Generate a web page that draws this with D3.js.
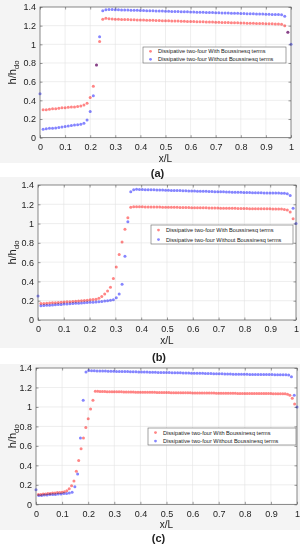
<!DOCTYPE html>
<html>
<head>
<meta charset="utf-8">
<script src="https://cdn.jsdelivr.net/npm/d3@7"></script>
<style>
  body { margin: 0; background: #fff; }
  svg { display: block; }
  text { font-family: "Liberation Sans", Arial, sans-serif; fill: #222; }
</style>
</head>
<body>
<div id="fig"></div>
<script>
'use strict';

var xTicks = [0, 0.1, 0.2, 0.3, 0.4, 0.5, 0.6, 0.7, 0.8, 0.9, 1];
var yTicks = [0, 0.2, 0.4, 0.6, 0.8, 1, 1.2, 1.4];
var seriesNames = ['Dissipative two-four With Boussinesq terms', 'Dissipative two-four Without Boussinesq terms'];
var panelNames = ['(a)', '(b)', '(c)'];

// h/hdo along x/L, points evenly spaced from x=0 to x=1 (null = no marker)
var redA = [null,
  0.30,0.30,0.305,0.31,0.31,0.315,0.32,0.32,0.325,0.33,0.33,0.335,0.34,0.35,
  0.37,0.43,0.55,0.78,1.03,
  1.27,1.28,1.275,
  1.272,1.27,1.268,1.267,1.266,1.265,1.264,1.263,1.262,1.261,
  1.26,1.259,1.258,1.257,1.256,1.255,1.254,1.253,1.252,1.251,
  1.25,1.249,1.248,1.247,1.246,1.245,1.244,1.243,1.242,1.241,
  1.24,1.239,1.238,1.237,1.236,1.235,1.234,1.233,1.232,1.231,
  1.23,1.229,1.228,1.227,1.226,1.225,1.224,1.223,1.222,1.221,
  1.22,1.22,1.219,1.218,1.215,
  1.20,1.13,null];
var blueA = [0.47,
  0.09,0.095,0.10,0.10,0.105,0.11,0.115,0.12,0.125,0.13,0.135,0.14,0.145,0.155,
  0.19,0.28,0.45,0.78,1.08,
  1.36,1.37,1.372,
  1.372,1.371,1.370,1.369,1.368,1.367,1.366,1.365,1.364,1.363,
  1.362,1.361,1.360,1.359,1.358,1.357,1.356,1.355,1.354,1.353,
  1.352,1.351,1.350,1.349,1.348,1.347,1.346,1.345,1.344,1.343,
  1.342,1.341,1.340,1.339,1.338,1.337,1.336,1.335,1.334,1.333,
  1.332,1.331,1.330,1.329,1.328,1.327,1.326,1.325,1.324,1.323,
  1.322,1.321,1.320,1.320,1.318,
  1.30,1.13,1.00];

var redB = [null,
  0.17,0.172,0.174,0.176,0.178,0.18,0.182,0.184,0.186,0.188,
  0.19,0.192,0.194,0.197,0.2,0.203,0.206,0.209,0.212,0.216,
  0.225,0.245,
  0.27,0.30,0.34,0.43,0.55,0.68,0.81,0.94,1.06,1.17,
  1.175,1.175,1.174,1.174,1.173,1.173,1.172,1.172,1.171,1.171,
  1.17,1.17,1.169,1.169,1.168,1.168,1.167,1.167,1.166,1.166,
  1.165,1.165,1.164,1.164,1.163,1.163,1.162,1.162,1.161,1.161,
  1.16,1.16,1.159,1.159,1.158,1.158,1.157,1.157,1.156,1.156,
  1.155,1.155,1.155,1.154,1.154,1.154,1.153,1.153,1.152,1.152,1.151,1.15,1.145,
  1.14,1.12,1.05,null];
var blueB = [0.25,
  0.148,0.15,0.152,0.154,0.156,0.158,0.16,0.162,0.165,0.167,
  0.169,0.171,0.173,0.175,0.177,0.179,0.181,0.183,0.185,0.187,
  0.19,0.193,0.196,0.2,0.205,0.21,
  0.23,0.27,0.37,0.66,1.02,1.33,
  1.35,1.355,
  1.354,1.353,1.352,1.352,1.351,1.35,1.349,1.348,1.347,1.346,
  1.345,1.344,1.343,1.343,1.342,1.341,1.34,1.339,1.338,1.337,
  1.336,1.336,1.335,1.334,1.333,1.332,1.331,1.33,1.33,1.329,
  1.328,1.327,1.326,1.325,1.325,1.324,1.323,1.322,1.321,1.32,
  1.32,1.319,1.319,1.318,1.318,1.317,1.317,1.316,1.316,1.315,1.315,1.31,
  1.29,1.16,1.00];

var redC = [null,
  0.10,0.10,0.105,0.105,0.11,0.11,0.115,0.115,0.12,0.12,0.125,0.13,
  0.14,0.16,0.19,0.24,0.34,0.45,0.57,0.68,0.79,0.88,0.98,1.07,1.16,
  1.16,1.159,1.158,1.158,1.157,1.157,1.156,1.156,1.155,1.155,
  1.155,1.154,1.154,1.153,1.153,1.153,1.152,1.152,1.152,1.151,
  1.151,1.151,1.15,1.15,1.15,1.149,1.149,1.149,1.148,1.148,
  1.148,1.147,1.147,1.147,1.146,1.146,1.146,1.145,1.145,1.145,
  1.144,1.144,1.144,1.143,1.143,1.143,1.142,1.142,1.142,1.142,
  1.141,1.141,1.141,1.141,1.14,1.14,1.14,1.14,1.14,1.139,
  1.139,1.139,1.139,1.139,1.138,1.138,1.138,1.138,1.138,1.137,
  1.137,1.137,1.137,1.137,1.136,1.136,1.136,1.136,1.135,
  1.135,1.13,1.12,1.09,1.03,null];
var blueC = [0.15,
  0.09,0.09,0.095,0.095,0.10,0.10,0.10,0.105,0.105,0.11,0.11,0.115,
  0.125,0.18,0.31,0.68,1.07,1.36,1.375,
  1.372,1.371,1.37,1.369,1.369,1.368,1.367,1.367,1.366,1.365,
  1.365,1.364,1.363,1.363,1.362,1.361,1.361,1.36,1.359,1.359,
  1.358,1.357,1.357,1.356,1.355,1.355,1.354,1.353,1.353,1.352,
  1.351,1.351,1.35,1.349,1.349,1.348,1.347,1.347,1.346,1.345,
  1.345,1.344,1.343,1.343,1.342,1.341,1.341,1.34,1.339,1.339,
  1.338,1.337,1.337,1.336,1.336,1.335,1.335,1.334,1.334,1.334,
  1.333,1.333,1.333,1.332,1.332,1.332,1.331,1.331,1.331,1.33,1.33,1.328,
  1.31,1.12,1.00];

var panelSeries = [[redA, blueA], [redB, blueB], [redC, blueC]];

var chart = {};
chart.width = 307;
chart.height = 550;
chart.colors = ['#ff8585', '#8585ff'];
chart.layout = [
  {fig: [0, 0, 300, 163], left: 40, right: 291, top: 7, bottom: 137.7, legend: [143, 47, 143, 16], xlab: 162, tag: 177},
  {fig: [0, 177, 300, 171], left: 38, right: 296, top: 185, bottom: 320, legend: [151, 225, 142, 19], xlab: 344, tag: 361},
  {fig: [0, 364, 300, 166], left: 36, right: 297, top: 368, bottom: 504.3, legend: [148, 428, 148, 17], xlab: 528, tag: 542}
];

chart.appendSvg = function (div)
{
    return d3.select(div).append('svg')
        .attr('width', chart.width)
        .attr('height', chart.height);
}

chart.drawBackgrounds = function (svg)
{
    svg.append('g').selectAll('rect').data(chart.layout).enter().append('rect')
        .attr('x', function(d){ return d.fig[0]; })
        .attr('y', function(d){ return d.fig[1]; })
        .attr('width', function(d){ return d.fig[2]; })
        .attr('height', function(d){ return d.fig[3]; })
        .attr('fill', '#f4f4f4');
}

chart.drawPanel = function (svg, k)
{
    var L = chart.layout[k];
    var xScale = d3.scaleLinear().domain([0, 1]).range([L.left, L.right]);
    var yScale = d3.scaleLinear().domain([0, 1.4]).range([L.bottom, L.top]);
    var g = svg.append('g').attr('class', 'panel');

    g.append('rect')
        .attr('x', L.left).attr('y', L.top)
        .attr('width', L.right - L.left).attr('height', L.bottom - L.top)
        .attr('fill', '#fff');

    // grid
    g.selectAll('.gx').data(xTicks.slice(1, -1)).enter().append('line')
        .attr('x1', function(d){ return xScale(d); }).attr('x2', function(d){ return xScale(d); })
        .attr('y1', L.top).attr('y2', L.bottom)
        .attr('stroke', '#e3e3e3').attr('stroke-width', 0.6);
    g.selectAll('.gy').data(yTicks.slice(1, -1)).enter().append('line')
        .attr('y1', function(d){ return yScale(d); }).attr('y2', function(d){ return yScale(d); })
        .attr('x1', L.left).attr('x2', L.right)
        .attr('stroke', '#e3e3e3').attr('stroke-width', 0.6);

    // axes, ticks pointing inward on all four sides
    var fmt = function(d){ return String(d); };
    var axB = g.append('g').attr('transform', 'translate(0,' + L.bottom + ')')
        .call(d3.axisBottom(xScale).tickValues(xTicks).tickSize(-2.5).tickSizeOuter(0).tickPadding(6).tickFormat(fmt));
    var axL = g.append('g').attr('transform', 'translate(' + L.left + ',0)')
        .call(d3.axisLeft(yScale).tickValues(yTicks).tickSize(-2.5).tickSizeOuter(0).tickPadding(4).tickFormat(fmt));
    var axT = g.append('g').attr('transform', 'translate(0,' + L.top + ')')
        .call(d3.axisTop(xScale).tickValues(xTicks).tickSize(-2.5).tickSizeOuter(0).tickFormat(''));
    var axR = g.append('g').attr('transform', 'translate(' + L.right + ',0)')
        .call(d3.axisRight(yScale).tickValues(yTicks).tickSize(-2.5).tickSizeOuter(0).tickFormat(''));
    [axB, axL, axT, axR].forEach(function(ax){
        ax.select('.domain').remove();
        ax.selectAll('line').attr('stroke', '#555').attr('stroke-width', 0.6);
        ax.selectAll('text').attr('font-size', 9).attr('fill', '#222')
            .attr('font-family', '"Liberation Sans", Arial, sans-serif');
    });

    // markers
    var markers = g.append('g');
    panelSeries[k].forEach(function(vals, s){
        var n = vals.length - 1;
        var pts = vals.map(function(v, i){ return {x: i / n, y: v}; })
            .filter(function(p){ return p.y !== null; });
        markers.append('g').style('mix-blend-mode', 'multiply')
            .selectAll('circle').data(pts).enter().append('circle')
            .attr('cx', function(d){ return xScale(d.x); })
            .attr('cy', function(d){ return yScale(d.y); })
            .attr('r', 1.5)
            .attr('fill', chart.colors[s]);
    });

    g.append('rect')
        .attr('x', L.left).attr('y', L.top)
        .attr('width', L.right - L.left).attr('height', L.bottom - L.top)
        .attr('fill', 'none').attr('stroke', '#555').attr('stroke-width', 0.7);

    // legend
    var lg = g.append('g').attr('transform', 'translate(' + L.legend[0] + ',' + L.legend[1] + ')');
    lg.append('rect').attr('width', L.legend[2]).attr('height', L.legend[3])
        .attr('fill', '#fff').attr('stroke', '#666').attr('stroke-width', 0.6);
    var rowH = L.legend[3] / 2;
    seriesNames.forEach(function(name, s){
        var cy = rowH * (s + 0.5) + 0.3;
        lg.append('circle').attr('cx', 7.5).attr('cy', cy).attr('r', 1.4).attr('fill', chart.colors[s]);
        lg.append('text').attr('x', 15).attr('y', cy).attr('dy', '0.35em')
            .attr('font-size', 5.6).text(name);
    });

    // labels
    g.append('text')
        .attr('x', (L.left + L.right) / 2).attr('y', L.xlab)
        .attr('text-anchor', 'middle').attr('font-size', 10).text('x/L');
    var yl = g.append('text')
        .attr('transform', 'translate(16,' + ((L.top + L.bottom) / 2) + ') rotate(-90)')
        .attr('text-anchor', 'middle').attr('font-size', 11);
    yl.append('tspan').text('h/h');
    yl.append('tspan').attr('font-size', 8).attr('dy', 3).text('do');

    g.append('text')
        .attr('x', (L.left + L.right) / 2 - 8).attr('y', L.tag)
        .attr('text-anchor', 'middle').attr('font-size', 11)
        .attr('font-family', '"Liberation Serif", "Times New Roman", serif')
        .attr('font-weight', 'bold')
        .text(panelNames[k]);
}

var svg = chart.appendSvg('#fig');
chart.drawBackgrounds(svg);
for (var k = 0; k < 3; k++) {
    chart.drawPanel(svg, k);
}
</script>
</body>
</html>
